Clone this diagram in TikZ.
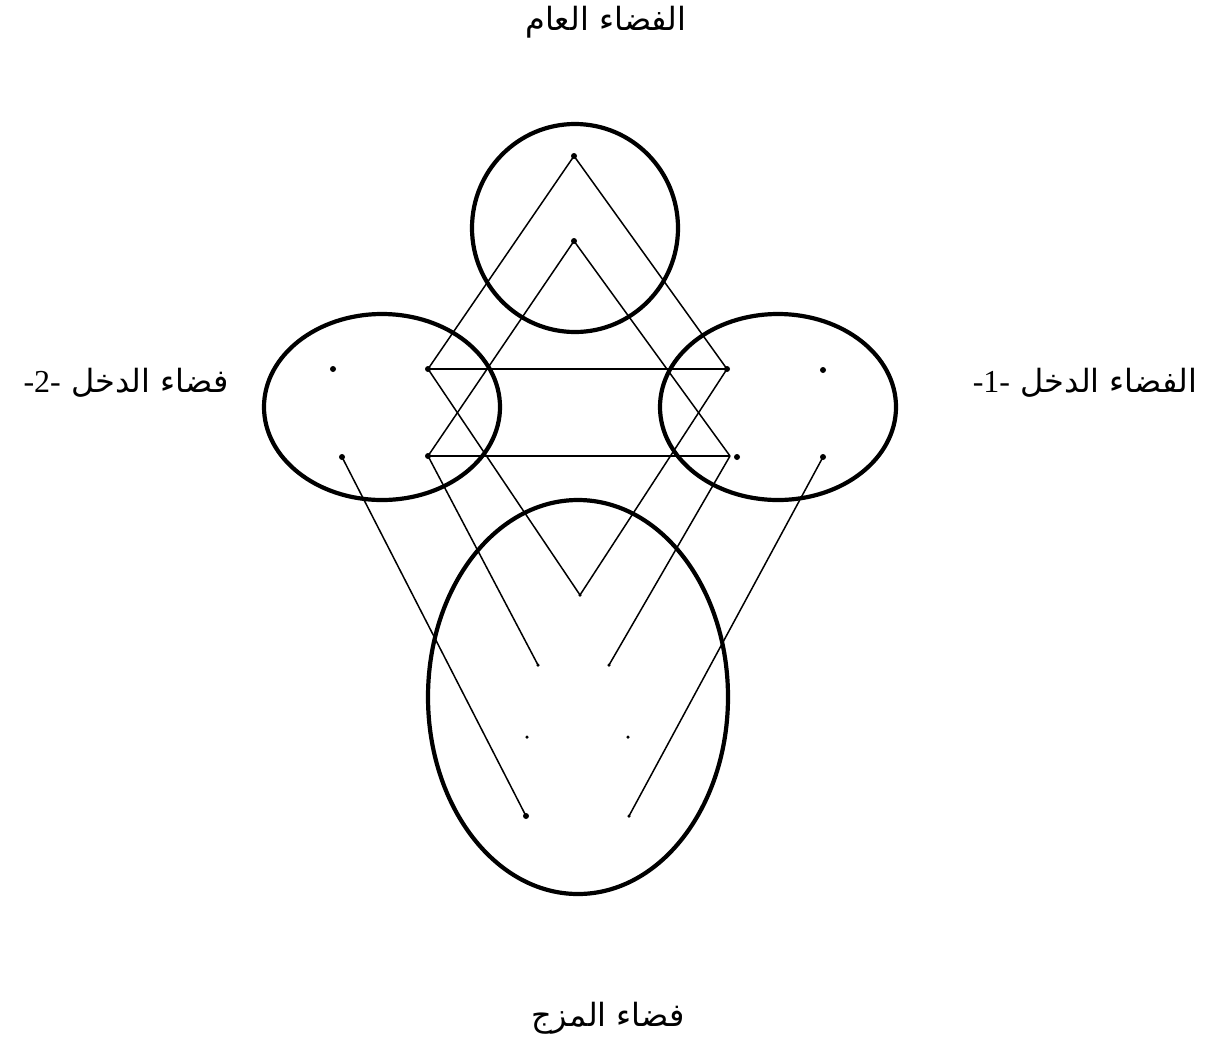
\documentclass[tikz,border=0pt]{standalone}
\usepackage{fontspec}
\TeXXeTstate=1
\newfontfamily\arabicfont[Script=Arabic]{DejaVu Sans}
\newfontfamily\digitfont{Liberation Serif}
\begin{document}
\begin{tikzpicture}[x=1pt,y=-1pt,
  space/.style={line width=4.2pt},
  link/.style={line width=1.5pt},
  pt/.style={circle,fill=black,inner sep=0pt,minimum size=6pt},
  spt/.style={circle,fill=black,inner sep=0pt,minimum size=3.5pt},
  lbl/.style={font=\arabicfont\fontsize{32}{36}\selectfont,inner sep=0pt}]
\useasboundingbox (0,0) rectangle (1207,1042);
% spaces
\draw[space] (575,228) ellipse [x radius=103, y radius=104];
\draw[space] (382,407) ellipse [x radius=118, y radius=93];
\draw[space] (778,407) ellipse [x radius=118, y radius=93];
\draw[space] (578,697) ellipse [x radius=150, y radius=197];
% points
\node[pt] (g1) at (574,156) {};
\node[pt] (g2) at (574,241) {};
\node[pt] (a1) at (333,369) {};
\node[pt] (a2) at (342,457) {};
\node[pt] (a3) at (428,369) {};
\node[pt] (a4) at (428,456) {};
\node[pt] (b1) at (823,370) {};
\node[pt] (b2) at (823,457) {};
\node[pt] (b3) at (727,369) {};
\node[pt] (b4) at (737,457) {};
\coordinate (b4e) at (730,456);
\node[spt] (m1) at (580,595) {};
\node[spt] (m2) at (538,665) {};
\node[spt] (m3) at (609,665) {};
\node[spt] (m4) at (527,737) {};
\node[spt] (m5) at (628,737) {};
\node[pt] (m6) at (526,816) {};
\node[spt] (m7) at (629,816) {};
% connectors
\draw[link] (g1.center) -- (a3.center);
\draw[link] (g1.center) -- (b3.center);
\draw[link] (g2.center) -- (a4.center);
\draw[link] (g2.center) -- (b4e);
\draw[link] (a3.center) -- (b3.center);
\draw[link] (a4.center) -- (b4e);
\draw[link] (a3.center) -- (m1.center);
\draw[link] (b3.center) -- (m1.center);
\draw[link] (a4.center) -- (m2.center);
\draw[link] (b4e) -- (m3.center);
\draw[link] (a2.center) -- (m6.center);
\draw[link] (b2.center) -- (m7.center);
% labels
\node[lbl] (tg) at (606,22) {\beginR الفضاء العام\endR};
\node[lbl] (tl) at (126,383) {\beginR فضاء الدخل \beginL{\digitfont -2-}\endL\endR};
\node[lbl] (tr) at (1085,383) {\beginR الفضاء الدخل \beginL{\digitfont -1-}\endL\endR};
\node[lbl] (tb) at (608,1018) {\beginR فضاء المزج\endR};
\end{tikzpicture}
\end{document}
